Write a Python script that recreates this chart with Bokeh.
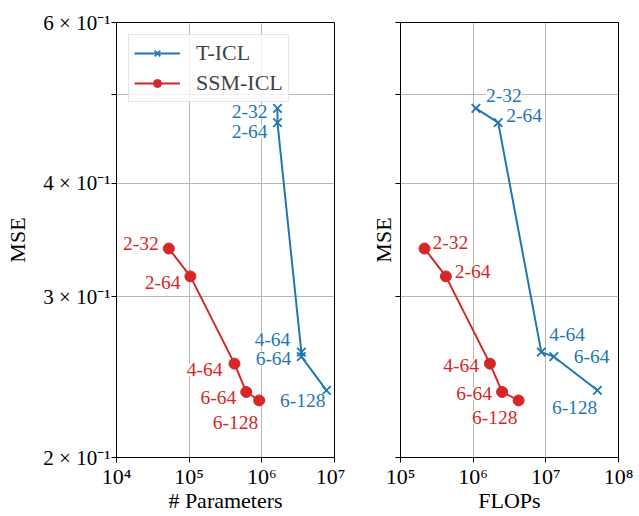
from bokeh.plotting import figure
from bokeh.layouts import row
from bokeh.models import ColumnDataSource, FixedTicker, Legend, LegendItem, Range1d
from bokeh.embed import file_html
from bokeh.resources import INLINE
from bokeh.core.properties import value

# ---- data ----
configs = ["2-32", "2-64", "4-64", "6-64", "6-128"]
t_params = [1.64e6, 1.64e6, 3.5e6, 3.5e6, 7.75e6]
t_flops = [1.09e6, 2.21e6, 8.67e6, 1.29e7, 5.12e7]
t_mse = [0.483, 0.466, 0.261, 0.258, 0.237]
s_params = [5.25e4, 1.04e5, 4.2e5, 6.1e5, 9.2e5]
s_flops = [2.14e5, 4.21e5, 1.70e6, 2.5e6, 4.22e6]
s_mse = [0.339, 0.316, 0.2535, 0.236, 0.231]

y_ticks = [0.2, 0.3, 0.4, 0.5, 0.6]
y_tick_labels = ["2 × 10⁻¹", "3 × 10⁻¹", "4 × 10⁻¹", "", "6 × 10⁻¹"]
x1_ticks = [1e4, 1e5, 1e6, 1e7]
x1_tick_labels = ["10⁴", "10⁵", "10⁶", "10⁷"]
x2_ticks = [1e5, 1e6, 1e7, 1e8]
x2_tick_labels = ["10⁵", "10⁶", "10⁷", "10⁸"]

# ---- label placement (style) ----
L_t_dx = [-10, -10, -11, -10, -1]
L_t_dy = [3, 9, -13, 2, 10]
L_t_al = ["right"] * 5
L_s_dx = [-10, -10, -12, -10, -1]
L_s_dy = [-5, 6, 6, 6, 22]
L_s_al = ["right"] * 5
R_t_dx = [10, 8, 8, 20, 0]
R_t_dy = [-13, -7, -18, 0, 17]
R_t_al = ["left", "left", "left", "left", "right"]
R_s_dx = [8, 9, -11, -10, -1]
R_s_dy = [-6, -5, 2, 2, 17]
R_s_al = ["left", "left", "right", "right", "right"]

BLUE = "#1f77b4"
RED = "#d62728"
FONT = "Liberation Serif"


def style(p, xticks, xlabels, ylabels_shown, xlabel):
    p.outline_line_color = "black"
    p.outline_line_width = 1
    for ax in (p.xaxis[0], p.yaxis[0]):
        ax.major_tick_out = 5
        ax.major_tick_in = 0
        ax.minor_tick_out = 0
        ax.minor_tick_in = 0
        ax.axis_line_color = "black"
        ax.major_tick_line_color = "black"
        ax.major_label_text_font = FONT
        ax.major_label_text_color = "black"
        ax.axis_label_text_font = FONT
        ax.axis_label_text_font_size = "22px"
        ax.axis_label_text_font_style = "normal"
        ax.axis_label_text_color = "black"
    p.xaxis.major_label_text_font_size = "22px"
    p.yaxis.major_label_text_font_size = "21px"
    p.xaxis.ticker = FixedTicker(ticks=xticks)
    p.xaxis.major_label_overrides = dict(zip(xticks, xlabels))
    p.yaxis.ticker = FixedTicker(ticks=y_ticks)
    if ylabels_shown:
        p.yaxis.major_label_overrides = dict(zip(y_ticks, y_tick_labels))
        p.yaxis.major_label_standoff = 1
        p.yaxis.axis_label_standoff = 10
    else:
        p.yaxis.major_label_overrides = {t: "" for t in y_ticks}
        p.yaxis.major_label_standoff = 0
        p.yaxis.axis_label_standoff = 0
    p.xaxis.axis_label = xlabel
    p.yaxis.axis_label = "MSE"
    p.xaxis.axis_label_standoff = -4
    p.xaxis.major_label_standoff = 1
    p.xgrid.ticker = FixedTicker(ticks=xticks)
    p.ygrid.ticker = FixedTicker(ticks=y_ticks)
    for g in (p.xgrid[0], p.ygrid[0]):
        g.grid_line_color = "#b0b0b0"
        g.grid_line_width = 0.9


def add_labels(p, xs, ys, dx, dy, al, color):
    src = ColumnDataSource(dict(x=xs, y=ys, t=configs, dx=dx, dy=dy, al=al))
    p.text("x", "y", text="t", x_offset="dx", y_offset="dy", text_align="al",
           text_baseline="middle", source=src, text_color=color,
           text_font=value(FONT), text_font_size="19.5px",
           background_fill_color="white", background_fill_alpha=0.85)


def series(p, xs, ys, color, marker):
    ln = p.line(xs, ys, line_color=color, line_width=2)
    if marker == "x":
        mk = p.scatter(xs, ys, marker="x", size=12, line_color=color, line_width=1.8)
    else:
        mk = p.scatter(xs, ys, marker="circle", size=11, fill_color=color, line_color=color)
    return [ln, mk]


# ---- left figure ----
p1 = figure(width=345, height=516, x_axis_type="log", y_axis_type="log",
            x_range=Range1d(1e4, 1e7), y_range=Range1d(0.2, 0.6),
            output_backend="svg", toolbar_location=None,
            min_border_left=116, min_border_right=11, min_border_top=22,
            min_border_bottom=59)
style(p1, x1_ticks, x1_tick_labels, True, "# Parameters")
r_t = series(p1, t_params, t_mse, BLUE, "x")
r_s = series(p1, s_params, s_mse, RED, "o")
add_labels(p1, t_params, t_mse, L_t_dx, L_t_dy, L_t_al, BLUE)
add_labels(p1, s_params, s_mse, L_s_dx, L_s_dy, L_s_al, RED)
legend = Legend(items=[LegendItem(label="T-ICL", renderers=r_t),
                       LegendItem(label="SSM-ICL", renderers=r_s)],
                location="top_left")
legend.label_text_font = FONT
legend.label_text_font_size = "22px"
legend.border_line_color = "#cccccc"
legend.border_line_width = 1
legend.background_fill_alpha = 0.8
legend.glyph_width = 46
legend.glyph_height = 20
legend.label_standoff = 16
legend.label_height = 20
legend.spacing = 4
legend.padding = 5
legend.margin = 12
p1.add_layout(legend)

# ---- right figure ----
p2 = figure(width=294, height=516, x_axis_type="log", y_axis_type="log",
            x_range=Range1d(1e5, 1e8), y_range=Range1d(0.2, 0.6),
            output_backend="svg", toolbar_location=None,
            min_border_left=55, min_border_right=21, min_border_top=22,
            min_border_bottom=59)
style(p2, x2_ticks, x2_tick_labels, False, "FLOPs")
series(p2, t_flops, t_mse, BLUE, "x")
series(p2, s_flops, s_mse, RED, "o")
add_labels(p2, t_flops, t_mse, R_t_dx, R_t_dy, R_t_al, BLUE)
add_labels(p2, s_flops, s_mse, R_s_dx, R_s_dy, R_s_al, RED)

layout = row(p1, p2)
open("out.html", "w").write(file_html(layout, INLINE))
